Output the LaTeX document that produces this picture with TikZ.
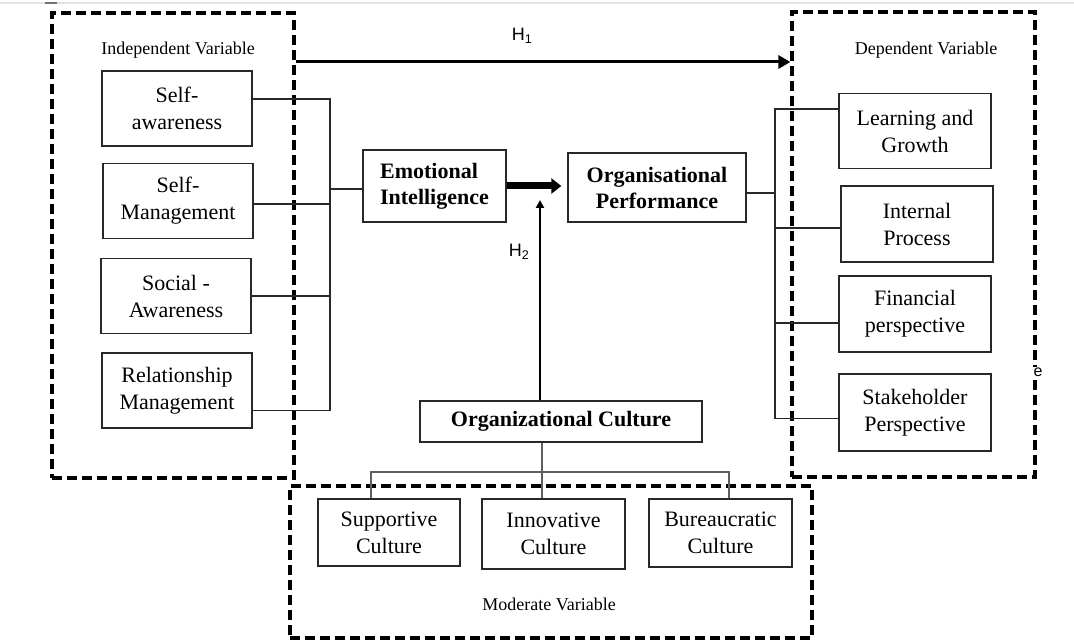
\documentclass[tikz,border=0pt]{standalone}
\usepackage{fontspec}
\setmainfont{Liberation Serif}
\newfontfamily\arialfont{Liberation Sans}
\definecolor{boxline}{RGB}{40,40,40}
\definecolor{treeline}{RGB}{95,95,95}
\definecolor{topline}{RGB}{226,226,226}
\usetikzlibrary{arrows.meta}

\begin{document}
\begin{tikzpicture}[x=1pt, y=-1pt,
  dashframe/.style={draw=black, line width=3.2pt, dash pattern=on 10pt off 5pt, inner sep=0pt},
  varbox/.style={draw=boxline, line width=1.3pt, align=center, inner sep=0pt,
    minimum width=150pt, minimum height=75pt, font=\fontsize{22}{27}\selectfont},
  boldbox/.style={varbox, font=\bfseries\fontsize{22}{26}\selectfont},
  framelabel/.style={font=\fontsize{18}{20}\selectfont},
  hyp/.style={font=\arialfont\fontsize{18}{20}\selectfont},
  link/.style={draw=boxline, line width=1.3pt},
  treelink/.style={draw=treeline, line width=1.3pt}]
  \useasboundingbox (0,0) rectangle (1074,644);
  %% 1. Frames
  \draw[topline, line width=1.2pt] (0,3) -- (1074,3);
  \draw[black!55, line width=1.2pt] (45,3) -- (57,3);
  \node[dashframe, minimum width=242pt, minimum height=465pt] (indep) at (173,245.5) {};
  \node[dashframe, minimum width=243pt, minimum height=465pt] (dep) at (913.5,244.5) {};
  \node[dashframe, minimum width=522pt, minimum height=152pt] (moder) at (551,562) {};
  \node[framelabel] (indeplab) at (178,50) {Independent Variable};
  \node[framelabel] (deplab) at (926,50) {Dependent Variable};
  \node[framelabel] (moderlab) at (549,604) {Moderate Variable};
  %% 2. Boxes
  \node[varbox] (sa) at (177,108.5) {Self-\\awareness};
  \node[varbox] (sm) at (178,201) {Self-\\Management};
  \node[varbox] (soc) at (176,296) {Social -\\Awareness};
  \node[varbox] (rel) at (177,390.5) {Relationship\\Management};
  \node[boldbox, minimum width=143pt, minimum height=72pt, align=left] (ei) at (434.5,186) {Emotional\\Intelligence};
  \node[boldbox, minimum width=178pt, minimum height=69pt] (op) at (657,187.5) {Organisational\\Performance};
  \node[varbox, minimum width=152pt] (lg) at (915,131) {Learning and\\Growth};
  \node[varbox, minimum width=152pt, minimum height=76pt] (ip) at (917,224) {Internal\\Process};
  \node[varbox, minimum width=152pt, minimum height=76pt] (fp) at (915,314) {Financial\\perspective};
  \node[varbox, minimum width=152pt, minimum height=77pt] (sp) at (915,412.5) {Stakeholder\\Perspective};
  \node[boldbox, minimum width=282pt, minimum height=41pt] (oc) at (561,421.5) {Organizational Culture};
  \node[varbox, minimum width=142pt, minimum height=67pt] (suc) at (389,532.5) {Supportive\\Culture};
  \node[varbox, minimum width=143pt, minimum height=70pt] (inc) at (553.5,534) {Innovative\\Culture};
  \node[varbox, minimum width=143pt, minimum height=68pt] (buc) at (720.5,533) {Bureaucratic\\Culture};
  %% 3. Connectors
  \coordinate (lbus) at (330,189);
  \coordinate (rbus) at (775,193);
  \coordinate (tl) at (371,472);
  \coordinate (tr) at (729,472);
  \coordinate (tmid) at (542,472);
  \coordinate (hone) at (0,62);
  \coordinate (htwo) at (540,200);
  \draw[link] ([yshift=9.5pt]sa.east) -| (lbus);
  \draw[link] ([yshift=-3pt]sm.east) -| (lbus);
  \draw[link] (soc.east) -| (lbus);
  \draw[link] ([yshift=-20pt]rel.east) -| (lbus);
  \draw[link] (lbus) -- (lbus -| ei.west);
  \draw[link] (rbus) -- (rbus -| op.east);
  \draw[link] ([yshift=22pt]lg.west) -| (rbus);
  \draw[link] ([yshift=-4pt]ip.west) -| (rbus);
  \draw[link] ([yshift=-9pt]fp.west) -| (rbus);
  \draw[link] ([yshift=-6pt]sp.west) -| (rbus);
  \draw[treelink] (tl |- suc.north) -- (tl) -- (tr) -- (tr |- buc.north);
  \draw[treelink] (oc.south -| tmid) -- (inc.north -| tmid);
  %% 4. Arrows and labels
  \draw[line width=7pt, -{Triangle[length=10pt,width=15pt]}, shorten >=6pt] (ei.east) -- (ei.east -| op.west);
  \draw[line width=3pt, -{Triangle[length=12pt,width=13pt]}] (indep.east |- hone) -- (dep.west |- hone);
  \draw[line width=2.5pt, -{Triangle[length=8pt,width=8pt]}] (oc.north -| htwo) -- (htwo);
  \node[hyp] (hlab1) at (522,36) {H\textsubscript{1}};
  \node[hyp] (hlab2) at (519,252) {H\textsubscript{2}};
  \node[fill=white, inner sep=0.5pt, font=\arialfont\fontsize{16}{18}\selectfont] (stray) at (1038,372) {e};
\end{tikzpicture}
\end{document}
